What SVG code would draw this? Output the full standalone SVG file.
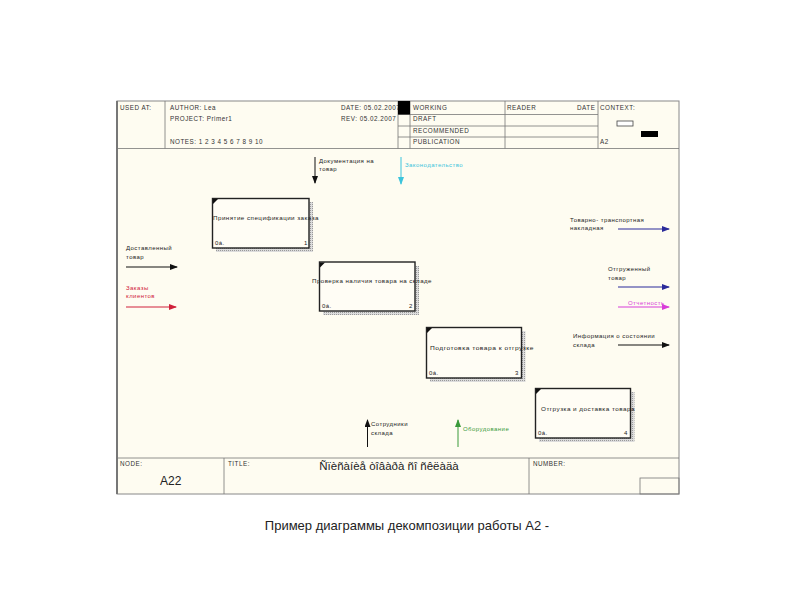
<svg xmlns="http://www.w3.org/2000/svg" width="800" height="600" viewBox="0 0 800 600">
<defs>
<style>
.t{font-family:"Liberation Sans",Arial,sans-serif;font-size:6px;letter-spacing:0.45px;fill:#222}
.h{font-family:"Liberation Sans",Arial,sans-serif;font-size:6.3px;letter-spacing:0.5px;fill:#333}
.ln{stroke:#777;stroke-width:0.8;fill:none}
.box{fill:#fffdf5;stroke:#222;stroke-width:1.4}
.sh{fill:url(#hatch)}
</style>
<pattern id="hatch" width="2" height="2" patternUnits="userSpaceOnUse">
<rect width="2" height="2" fill="#dcdcdc"/>
<rect width="1" height="1" fill="#999"/>
</pattern>
<marker id="ak" markerWidth="8" markerHeight="6" refX="7" refY="3" orient="auto" markerUnits="userSpaceOnUse"><path d="M0,0 L8,3 L0,6 Z" fill="#111"/></marker>
<marker id="ac" markerWidth="8" markerHeight="6" refX="7" refY="3" orient="auto" markerUnits="userSpaceOnUse"><path d="M0,0 L8,3 L0,6 Z" fill="#3cc4dc"/></marker>
<marker id="ar" markerWidth="8" markerHeight="6" refX="7" refY="3" orient="auto" markerUnits="userSpaceOnUse"><path d="M0,0 L8,3 L0,6 Z" fill="#d0203a"/></marker>
<marker id="ab" markerWidth="8" markerHeight="6" refX="7" refY="3" orient="auto" markerUnits="userSpaceOnUse"><path d="M0,0 L8,3 L0,6 Z" fill="#2a2a9a"/></marker>
<marker id="am" markerWidth="8" markerHeight="6" refX="7" refY="3" orient="auto" markerUnits="userSpaceOnUse"><path d="M0,0 L8,3 L0,6 Z" fill="#d83cd8"/></marker>
<marker id="ag" markerWidth="8" markerHeight="6" refX="7" refY="3" orient="auto" markerUnits="userSpaceOnUse"><path d="M0,0 L8,3 L0,6 Z" fill="#3a9a3a"/></marker>
</defs>
<rect width="800" height="600" fill="#ffffff"/>

<g id="frame">
<rect x="117" y="101" width="562" height="393" fill="#fefcf1" stroke="#888" stroke-width="1"/>
<line x1="117" y1="101" x2="117" y2="494" stroke="#777" stroke-width="2"/>
<line class="ln" x1="117" y1="148.5" x2="679" y2="148.5"/>
<line class="ln" x1="165" y1="101" x2="165" y2="148.5"/>
<line class="ln" x1="398" y1="101" x2="398" y2="148.5"/>
<line class="ln" x1="410" y1="101" x2="410" y2="148.5"/>
<line class="ln" x1="505" y1="101" x2="505" y2="148.5"/>
<line class="ln" x1="598" y1="101" x2="598" y2="148.5"/>
<line class="ln" x1="398" y1="114.5" x2="598" y2="114.5"/>
<line class="ln" x1="398" y1="126" x2="598" y2="126"/>
<line class="ln" x1="398" y1="137" x2="598" y2="137"/>
<rect x="617" y="121" width="16" height="5" fill="#fff" stroke="#444" stroke-width="0.8"/>
<rect x="641" y="131" width="17" height="6" fill="#000"/>
<text class="h" x="120" y="110">USED AT:</text>
<text class="h" x="170" y="110">AUTHOR:  Lea</text>
<text class="h" x="170" y="121">PROJECT:  Primer1</text>
<text class="h" x="170" y="144">NOTES:  1  2  3  4  5  6  7  8  9  10</text>
<text class="h" x="341" y="110">DATE: 05.02.2007</text>
<text class="h" x="341" y="121">REV:   05.02.2007</text>
<rect x="398" y="101" width="12" height="13.5" fill="#000"/>
<text class="h" x="413" y="110">WORKING</text>
<text class="h" x="413" y="121">DRAFT</text>
<text class="h" x="413" y="133">RECOMMENDED</text>
<text class="h" x="413" y="144">PUBLICATION</text>
<text class="h" x="507" y="110">READER</text>
<text class="h" x="577" y="110">DATE</text>
<text class="h" x="600" y="110">CONTEXT:</text>
<text class="h" x="600" y="144">A2</text>
<line class="ln" x1="117" y1="458" x2="679" y2="458"/>
<line class="ln" x1="224" y1="458" x2="224" y2="494"/>
<line class="ln" x1="529" y1="458" x2="529" y2="494"/>
<rect x="640" y="478" width="39" height="16" fill="none" stroke="#777" stroke-width="0.8"/>
<text class="h" x="120" y="466">NODE:</text>
<text x="160" y="485" font-family="Liberation Sans, Arial, sans-serif" font-size="12" fill="#222">A22</text>
<text class="h" x="228" y="466">TITLE:</text>
<text x="389" y="470" text-anchor="middle" font-family="Liberation Sans, Arial, sans-serif" font-size="11.5" fill="#222">Ñïèñàíèå òîâàðà ñî ñêëàäà</text>
<text class="h" x="533" y="466">NUMBER:</text>
</g>

<g id="box1">
<path class="sh" d="M309,202 H313 V252 H216 V248 H309 Z"/>
<rect class="box" x="212.5" y="198.5" width="96.5" height="49.5"/>
<path d="M213,199 L218,199 L213,204 Z" fill="#111"/>
<text class="t" x="213" y="220" textLength="106" lengthAdjust="spacingAndGlyphs">Принятие спецификации заказа</text>
<text class="t" x="215" y="245">0á.</text>
<text class="t" x="304" y="245">1</text>
</g>

<g id="box2">
<path class="sh" d="M415,266 H419 V315 H323 V311 H415 Z"/>
<rect class="box" x="319.5" y="262" width="95.5" height="49"/>
<path d="M320,262.5 L325,262.5 L320,267.5 Z" fill="#111"/>
<text class="t" x="312" y="283" textLength="120" lengthAdjust="spacingAndGlyphs">Проверка наличия товара на складе</text>
<text class="t" x="322" y="308">0á.</text>
<text class="t" x="409" y="308">2</text>
</g>

<g id="box3">
<path class="sh" d="M521.5,331 H525.5 V382 H430 V378 H521.5 Z"/>
<rect class="box" x="426.5" y="327.5" width="95" height="50.5"/>
<path d="M427,328 L432,328 L427,333 Z" fill="#111"/>
<text class="t" x="430" y="350" textLength="104" lengthAdjust="spacingAndGlyphs">Подготовка товара к отгрузке</text>
<text class="t" x="429" y="375">0á.</text>
<text class="t" x="515" y="375">3</text>
</g>

<g id="box4">
<path class="sh" d="M630.5,392 H634.5 V442 H539 V438 H630.5 Z"/>
<rect class="box" x="535.5" y="388.5" width="95" height="49.5"/>
<path d="M536,389 L541,389 L536,394 Z" fill="#111"/>
<text class="t" x="541" y="411" textLength="94" lengthAdjust="spacingAndGlyphs">Отгрузка и доставка товара</text>
<text class="t" x="538" y="435">0á.</text>
<text class="t" x="624" y="435">4</text>
</g>

<g id="connectors">
<line x1="315" y1="157" x2="315" y2="183" stroke="#111" stroke-width="1" marker-end="url(#ak)"/>
<line x1="401" y1="157" x2="401" y2="184" stroke="#3cc4dc" stroke-width="1" marker-end="url(#ac)"/>
<line x1="126" y1="267" x2="177" y2="267" stroke="#111" stroke-width="1" marker-end="url(#ak)"/>
<line x1="126" y1="307" x2="176" y2="307" stroke="#d0203a" stroke-width="1" marker-end="url(#ar)"/>
<line x1="618" y1="229" x2="669" y2="229" stroke="#2a2a9a" stroke-width="1" marker-end="url(#ab)"/>
<line x1="618" y1="287" x2="669" y2="287" stroke="#2a2a9a" stroke-width="1" marker-end="url(#ab)"/>
<line x1="618" y1="307" x2="669" y2="307" stroke="#d83cd8" stroke-width="1" marker-end="url(#am)"/>
<line x1="618" y1="345" x2="669" y2="345" stroke="#111" stroke-width="1" marker-end="url(#ak)"/>
<line x1="367.5" y1="447" x2="367.5" y2="420" stroke="#111" stroke-width="1" marker-end="url(#ak)"/>
<line x1="458" y1="447" x2="458" y2="420" stroke="#3a9a3a" stroke-width="1" marker-end="url(#ag)"/>
<text class="t" x="319" y="163">Документация на</text>
<text class="t" x="319" y="171">товар</text>
<text class="t" x="405" y="167" style="fill:#3cc4dc">Законодательство</text>
<text class="t" x="126" y="250">Доставленный</text>
<text class="t" x="126" y="259">товар</text>
<text class="t" x="126" y="290" style="fill:#d0203a">Заказы</text>
<text class="t" x="126" y="298" style="fill:#d0203a">клиентов</text>
<text class="t" x="570" y="222">Товарно- транспортная</text>
<text class="t" x="570" y="230">накладная</text>
<text class="t" x="608" y="271">Отгруженный</text>
<text class="t" x="608" y="280">товар</text>
<text class="t" x="628" y="305" style="fill:#d83cd8">Отчетность</text>
<text class="t" x="573" y="338">Информация о состоянии</text>
<text class="t" x="573" y="347">склада</text>
<text class="t" x="371" y="426">Сотрудники</text>
<text class="t" x="371" y="435">склада</text>
<text class="t" x="463" y="431" style="fill:#3a9a3a">Оборудование</text>
</g>

<text x="407" y="530" text-anchor="middle" font-family="Liberation Sans, Arial, sans-serif" font-size="13" fill="#222">Пример диаграммы декомпозиции работы А2 -</text>
</svg>
